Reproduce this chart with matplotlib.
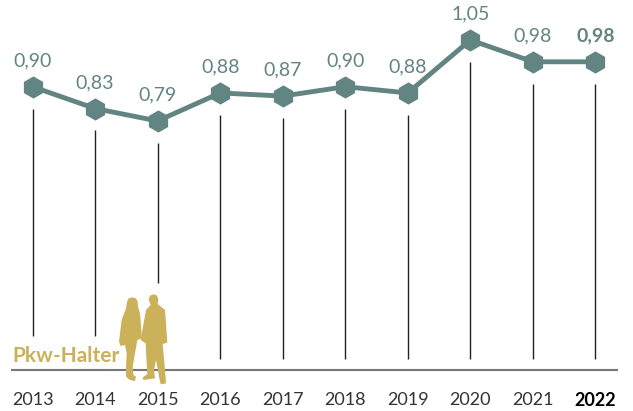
import matplotlib
matplotlib.use('Agg')
import matplotlib.pyplot as plt
from matplotlib.patches import Polygon
from matplotlib.transforms import Affine2D

years = [2013, 2014, 2015, 2016, 2017, 2018, 2019, 2020, 2021, 2022]
values = [0.90, 0.83, 0.79, 0.88, 0.87, 0.90, 0.88, 1.05, 0.98, 0.98]
labels = ['0,90', '0,83', '0,79', '0,88', '0,87', '0,90', '0,88', '1,05', '0,98', '0,98']

green = '#628482'
gold = '#cbb159'

plt.rcParams['font.family'] = ['Lato', 'DejaVu Sans']

fig = plt.figure(figsize=(6.33, 4.11), dpi=100)
ax = fig.add_axes([0, 0, 1, 1])
ax.set_xlim(2012.48, 2022.6)
ax.set_ylim(-0.141, 1.1784)
ax.axis('off')

# stems below the points, the first three stop higher for the figures
stem_bottom = [0.1, 0.1, 0.27, 0.025, 0.025, 0.025, 0.025, 0.025, 0.025, 0.025]
stem_top = [v - 0.07 for v in values]
ax.vlines(years, stem_bottom, stem_top, color='#222222', lw=1.0)

ax.plot(years, values, color=green, lw=3.5, zorder=3, solid_capstyle='round')
ax.plot(years, values, ls='', marker='h', ms=16, color=green, mec='none', zorder=4)

for i in range(len(years)):
    w = 'bold' if years[i] == 2022 else 'normal'
    ax.text(years[i], values[i] + 0.056, labels[i], color=green, fontsize=14,
            ha='center', va='bottom', fontweight=w)
    ax.text(years[i], -0.106, str(years[i]), color='black' if years[i] == 2022 else '#333333',
            fontsize=13, ha='center', va='center', fontweight=w)

# baseline and figures, in pixels of the picture
px = Affine2D().scale(1 / 633, -1 / 411).translate(0, 1) + fig.transFigure
ax.plot([12, 617], [370, 370], color='#777777', lw=1.5, transform=px, zorder=2)

woman = [(397, 52), (408, 55), (413, 65), (414, 80), (420, 100), (424, 150), (425, 175), (412, 180),
         (405, 220), (398, 260), (400, 285), (408, 290), (405, 303), (390, 300), (378, 290), (378, 265),
         (380, 220), (375, 195), (362, 198), (357, 185), (365, 120), (378, 85), (381, 65), (386, 55)]
man = [(460, 43), (470, 46), (475, 56), (473, 72), (495, 90), (498, 130), (502, 188), (488, 192),
       (495, 270), (498, 310), (482, 313), (478, 295), (468, 240), (462, 270), (465, 295), (430, 300),
       (428, 293), (442, 282), (440, 250), (437, 190), (422, 180), (430, 135), (438, 90), (452, 75),
       (446, 58), (450, 47)]
for shape in [woman, man]:
    pts = [(x / 3, 280 + y / 3) for x, y in shape]
    ax.add_patch(Polygon(pts, closed=True, color=gold, lw=0, transform=px, zorder=5))

ax.text(12, 356, 'Pkw-Halter', color=gold, fontsize=15, fontweight='bold',
        ha='left', va='center', transform=px, zorder=6)

fig.savefig('out.png', dpi=100)
